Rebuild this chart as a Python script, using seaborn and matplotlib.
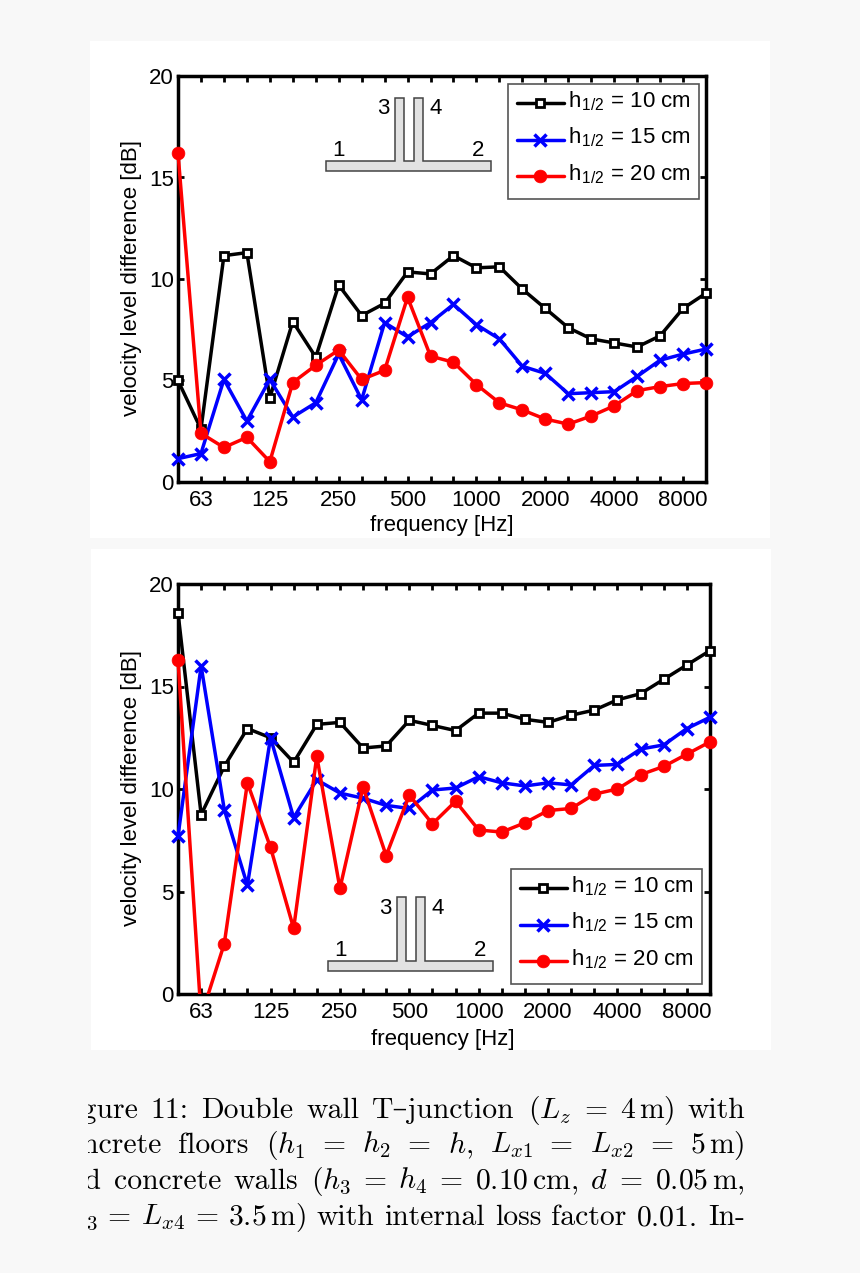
import matplotlib
matplotlib.use("Agg")
import matplotlib.pyplot as plt
from matplotlib.patches import Rectangle, Polygon
from matplotlib.transforms import Bbox, TransformedBbox
import pandas as pd
import seaborn as sns

# === DATA ===
BANDS = [50, 63, 80, 100, 125, 160, 200, 250, 315, 400, 500, 630, 800, 1000,
         1250, 1600, 2000, 2500, 3150, 4000, 5000, 6300, 8000, 10000]
LABELED_BANDS = [63, 125, 250, 500, 1000, 2000, 4000, 8000]
Y_TICKS = [0, 5, 10, 15, 20]

top_10cm = [5.0, 2.6, 11.15, 11.3, 4.15, 7.9, 6.15, 9.7, 8.2, 8.8, 10.35, 10.25,
            11.15, 10.55, 10.6, 9.5, 8.55, 7.6, 7.05, 6.85, 6.65, 7.2, 8.55, 9.3]
top_15cm = [1.15, 1.4, 5.05, 3.0, 5.05, 3.2, 3.9, 6.3, 4.05, 7.85, 7.15, 7.85,
            8.75, 7.75, 7.05, 5.7, 5.35, 4.35, 4.4, 4.45, 5.2, 6.0, 6.3, 6.55]
top_20cm = [16.2, 2.4, 1.7, 2.2, 1.0, 4.9, 5.75, 6.5, 5.05, 5.5, 9.1, 6.2,
            5.9, 4.8, 3.9, 3.55, 3.1, 2.85, 3.25, 3.75, 4.5, 4.7, 4.85, 4.9]

bottom_10cm = [18.6, 8.75, 11.1, 12.95, 12.5, 11.3, 13.15, 13.25, 12.0, 12.1, 13.35, 13.1,
               12.85, 13.7, 13.7, 13.4, 13.25, 13.6, 13.85, 14.35, 14.65, 15.35, 16.05, 16.75]
bottom_15cm = [7.7, 16.0, 9.0, 5.3, 12.5, 8.6, 10.45, 9.8, 9.55, 9.2, 9.05, 9.95,
               10.05, 10.6, 10.3, 10.15, 10.3, 10.2, 11.15, 11.2, 11.95, 12.15, 12.95, 13.5]
bottom_20cm = [16.3, -1.1, 2.45, 10.3, 7.15, 3.2, 11.6, 5.15, 10.1, 6.75, 9.7, 8.3,
               9.4, 8.0, 7.9, 8.35, 8.95, 9.05, 9.75, 10.0, 10.7, 11.1, 11.7, 12.3]

SERIES_LABELS = [r"h$_{\mathregular{1/2}}$ = 10 cm", r"h$_{\mathregular{1/2}}$ = 15 cm",
                 r"h$_{\mathregular{1/2}}$ = 20 cm"]

CAPTION = [
    r"Figure 11: Double wall T–junction ($L_z$ = $4\,$m) with",
    r"concrete floors ($h_1$ = $h_2$ = $h$, $L_{x1}$ = $L_{x2}$ = $5\,$m)",
    r"and concrete walls ($h_3$ = $h_4$ = $0.10\,$cm, $d$ = $0.05\,$m,",
    r"$L_{x3}$ = $L_{x4}$ = $3.5\,$m) with internal loss factor 0.01. In-",
]

W, H = 860, 1273
FS = 16

sns.set_theme(style="white")
plt.rcParams["font.family"] = ["Liberation Sans", "DejaVu Sans"]
plt.rcParams["mathtext.fontset"] = "cm"
plt.rcParams["mathtext.default"] = "it"

fig = plt.figure(figsize=(W / 100, H / 100), dpi=100, facecolor="#f8f8f8")


def fx(x):
    return x / W


def fy(y):
    return 1 - y / H


def add_panel(x0, y0, x1, y1):
    fig.patches.append(Rectangle((fx(x0), fy(y1)), (x1 - x0) / W, (y1 - y0) / H,
                                 transform=fig.transFigure, facecolor="white", edgecolor="none", zorder=-1))


def draw_junction(dx, dy, wall_top):
    # little T-junction sketch, pixel positions of the first panel shifted by dx, dy
    pts = [(326, 161), (395, 161), (395, wall_top), (404, wall_top), (404, 161), (414, 161),
           (414, wall_top), (423, wall_top), (423, 161), (491, 161), (491, 171), (326, 171)]
    pts = [(fx(x + dx), fy(y + dy)) for x, y in pts]
    fig.patches.append(Polygon(pts, closed=True, transform=fig.transFigure, facecolor="#e2e2e2",
                               edgecolor="#444444", linewidth=1.1, zorder=4))
    for txt, x, y in [("1", 339, 151), ("2", 478, 151), ("3", 383, 109), ("4", 436, 109)]:
        fig.text(fx(x + dx), fy(y + dy), txt, fontsize=FS, ha="center", va="center", color="black", zorder=5)


def draw_panel(box, series, legend_at, xlabel_xy, ylabel_y):
    left, top, right, bottom = box
    ax = fig.add_axes([fx(left), fy(bottom), (right - left) / W, (bottom - top) / H])
    ax.patch.set_alpha(0)
    styles = [
        dict(color="black", marker="s", markersize=6.4, markerfacecolor="white",
             markeredgecolor="black", markeredgewidth=2.0),
        dict(color="#0000ff", marker="x", markersize=8.5,
             markeredgecolor="#0000ff", markeredgewidth=2.5),
        dict(color="#ff0000", marker="o", markersize=9.2, markerfacecolor="#ff0000",
             markeredgecolor="#ff0000", markeredgewidth=0.5),
    ]
    for values, label, style in zip(series, SERIES_LABELS, styles):
        df = pd.DataFrame({"band": range(len(BANDS)), "level": values})
        sns.lineplot(data=df, x="band", y="level", ax=ax, label=label, linewidth=2.5,
                     errorbar=None, legend=False, zorder=3, **style)
    # markers sit on top of the frame but anything below 0 is cut off
    clip = Rectangle((-0.05, 0), 1.1, 1.05, transform=ax.transAxes)
    for line in ax.get_lines():
        line.set_clip_path(clip)

    ax.set_xlim(0, len(BANDS) - 1)
    ax.set_ylim(0, 20)
    ax.set_xticks(range(len(BANDS)))
    ax.set_xticklabels([str(b) if b in LABELED_BANDS else "" for b in BANDS])
    ax.set_yticks(Y_TICKS)
    ax.tick_params(direction="in", top=True, right=True, bottom=True, left=True,
                   length=4, width=2.0, labelsize=FS, color="black", labelcolor="black", pad=3)
    ax.tick_params(axis="x", pad=6)
    ax.set_xlabel("")
    ax.set_ylabel("")
    for spine in ax.spines.values():
        spine.set_visible(True)
        spine.set_linewidth(2.5)
        spine.set_color("black")

    fig.text(fx(xlabel_xy[0]), fy(xlabel_xy[1]), "frequency [Hz]", fontsize=FS, ha="center", va="center", color="black")
    fig.text(fx(131), fy(ylabel_y), "velocity level difference [dB]", fontsize=FS, rotation=90,
             ha="center", va="center", color="black")

    handles, labels = ax.get_legend_handles_labels()
    leg = ax.legend(handles, labels, loc="upper left", bbox_to_anchor=(fx(legend_at[0]), fy(legend_at[1])),
                    bbox_transform=fig.transFigure, borderaxespad=0, fontsize=FS, fancybox=False,
                    framealpha=1, edgecolor="#555555", handlelength=2.1, handletextpad=0.15,
                    labelspacing=0.58, borderpad=0.4)
    leg.get_frame().set_linewidth(1.2)
    for text in leg.get_texts():
        text.set_color("black")
        # labels sit a little above the handle line
        text.set_position((1, 4))
    return ax


add_panel(90, 41, 770, 538)
add_panel(91, 549, 771, 1050)

draw_panel((178, 76, 706, 482), [top_10cm, top_15cm, top_20cm], (508, 84), (442, 526), 278)
draw_panel((178, 584, 710, 994), [bottom_10cm, bottom_15cm, bottom_20cm], (511, 869), (443, 1039), 788)

draw_junction(0, 0, 98)
draw_junction(2, 800, 97)

# caption, set justified and cut off at the left like the page crop
CAPTION_LEFT, CAPTION_RIGHT = 54, 745
CAPTION_BASE = [1118, 1153, 1189, 1225]
clip_box = TransformedBbox(Bbox([[88 / W, 0], [1, 1]]), fig.transFigure)
renderer = fig.canvas.get_renderer()
for line, base in zip(CAPTION, CAPTION_BASE):
    words = line.split(" ")
    artists = [fig.text(0, fy(base), w, fontsize=21.4, family=["cmr10", "DejaVu Serif"], color="black",
                        va="baseline", ha="left", clip_on=True) for w in words]
    widths = [a.get_window_extent(renderer).width for a in artists]
    gap = (CAPTION_RIGHT - CAPTION_LEFT - sum(widths)) / (len(words) - 1)
    x = CAPTION_LEFT
    for a, w in zip(artists, widths):
        a.set_x(fx(x))
        a.set_clip_box(clip_box)
        x += w + gap

fig.savefig("out.png", dpi=100, facecolor=fig.get_facecolor())
